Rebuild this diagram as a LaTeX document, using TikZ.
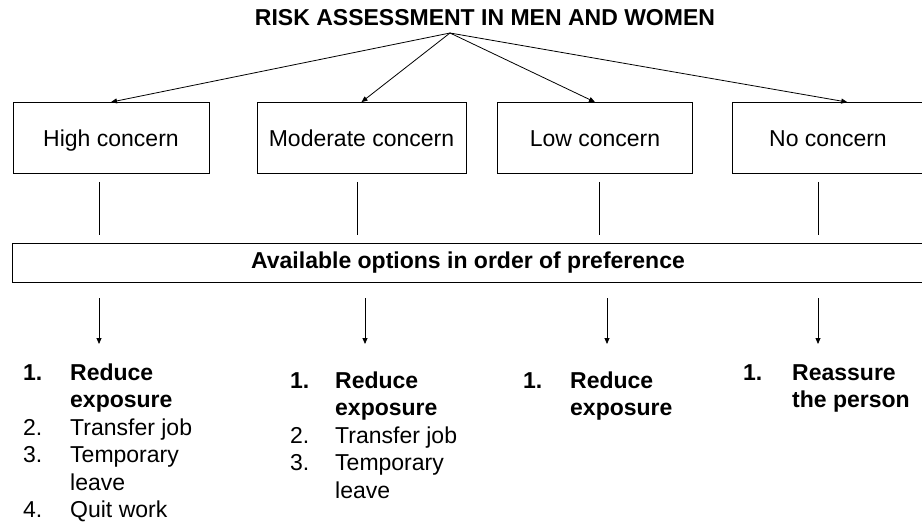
\documentclass[tikz,border=0pt]{standalone}
\usepackage{fontspec}
\setmainfont{Liberation Sans}
\usetikzlibrary{arrows.meta,calc}
\begin{document}
\begin{tikzpicture}[x=1pt,y=-1pt,
  box/.style={draw,line width=0.8pt,minimum height=71pt,inner sep=0pt,
    text height=16.5pt,text depth=0pt,font=\fontsize{23}{27.5}\selectfont},
  conn/.style={line width=0.8pt},
  arr/.style={line width=0.8pt,-{Triangle[length=6pt,width=5pt]}},
  lst/.style={anchor=base west,inner sep=0pt,font=\fontsize{23}{27.5}\selectfont}]
\useasboundingbox (0,0) rectangle (922,525);
\begin{scope}
\clip (0,0) rectangle (922,525);
\node[anchor=base,inner sep=0pt,font=\bfseries\fontsize{23}{27}\selectfont] (title) at (485,25) {RISK ASSESSMENT IN MEN AND WOMEN};
\coordinate (apex) at (450,33);

\node[box,minimum width=196pt] (high) at (111,138) {High concern};
\node[box,minimum width=209pt] (mod) at (361.5,138) {Moderate concern};
\node[box,minimum width=195pt] (low) at (595,138) {Low concern};
\node[box,minimum width=192pt] (no) at (828,138) {No concern};

\draw[arr] (apex) -- (high.north);
\draw[arr] (apex) -- (mod.north);
\draw[arr] (apex) -- (low.north);
\draw[arr] (apex) -- ($(no.north west)!0.6!(no.north east)$);

\node[draw,line width=0.8pt,minimum width=912pt,minimum height=39pt,inner sep=0pt,
  font=\bfseries\fontsize{23}{27}\selectfont] (opts) at (468,262.5) {Available options in order of preference};

\coordinate (v1) at (99,0);
\coordinate (v2) at (357,0);
\coordinate (v3) at (599,0);
\coordinate (v4) at (818,0);
\foreach \n/\v in {high/v1, mod/v2, low/v3, no/v4}
  \draw[conn,shorten <=8pt,shorten >=8pt] (\n.south -| \v) -- (opts.north -| \v);

\coordinate (d1) at (99,344);
\coordinate (d2) at (365,344);
\coordinate (d3) at (607,344);
\coordinate (d4) at (818,344);
\foreach \d in {d1,d2,d3,d4}
  \draw[arr,shorten <=16pt] (opts.south -| \d) -- (\d);

\node[lst] (l1) at (23,380) {\begin{tabular}[t]{@{}p{47pt}@{}l@{}}
\textbf{1.} & \textbf{Reduce}\\
 & \textbf{exposure}\\
2. & Transfer job\\
3. & Temporary\\
 & leave\\
4. & Quit work
\end{tabular}};

\node[lst] (l2) at (290,388) {\begin{tabular}[t]{@{}p{45pt}@{}l@{}}
\textbf{1.} & \textbf{Reduce}\\
 & \textbf{exposure}\\
2. & Transfer job\\
3. & Temporary\\
 & leave
\end{tabular}};

\node[lst] (l3) at (523,388) {\begin{tabular}[t]{@{}p{47pt}@{}l@{}}
\textbf{1.} & \textbf{Reduce}\\
 & \textbf{exposure}
\end{tabular}};

\node[lst] (l4) at (743,380) {\begin{tabular}[t]{@{}p{49pt}@{}l@{}}
\textbf{1.} & \textbf{Reassure}\\
 & \textbf{the person}
\end{tabular}};
\end{scope}
\end{tikzpicture}
\end{document}
